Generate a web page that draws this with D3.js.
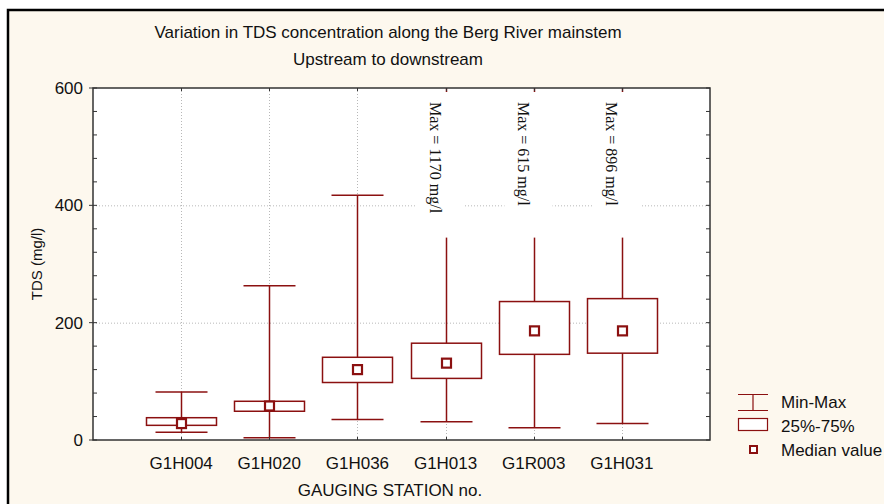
<!DOCTYPE html>
<html>
<head>
<meta charset="utf-8">
<script src="https://cdn.jsdelivr.net/npm/d3@7/dist/d3.min.js"></script>
<style>
  html, body { margin: 0; padding: 0; background: #ffffff; }
  svg { display: block; }
  text { fill: #111; }
</style>
</head>
<body>
<script>
// Gauging stations, ordered upstream to downstream
const categories = ["G1H004", "G1H020", "G1H036", "G1H013", "G1R003", "G1H031"];
// TDS summary statistics (mg/l)
const minVals    = [13, 4, 35, 31, 21, 28];
const q1Vals     = [25, 49, 98, 105, 146, 148];
const medianVals = [28, 58, 120, 131, 186, 186];
const q3Vals     = [38, 66, 141, 165, 236, 241];
const maxVals    = [82, 263, 417, 1170, 615, 896];
// Axis ticks
const yTicks = [0, 200, 400, 600];
const yMinorTicks = d3.range(0, 601, 40);
const legendLabels = ["Min-Max", "25%-75%", "Median value"];

const W = 884, H = 504;
const plot = { left: 93, right: 710, top: 88, bottom: 440 };
const red = "#8b1010";
const sans = "Arial, 'Liberation Sans', sans-serif";
const serif = "'Times New Roman', 'Liberation Serif', serif";

const stats = categories.map((c, i) => ({
  cat: c, min: minVals[i], q1: q1Vals[i], med: medianVals[i], q3: q3Vals[i], max: maxVals[i]
}));

const svg = d3.select("body").append("svg").attr("width", W).attr("height", H)
  .style("font-family", sans);

// Cream panel with a black frame on the top and left
svg.append("rect").attr("x", 8).attr("y", 10).attr("width", W).attr("height", H)
  .attr("fill", "#fdf8ee").attr("stroke", "#000").attr("stroke-width", 2.5);

const x = d3.scalePoint().domain(categories).range([plot.left, plot.right]).padding(1);
const y = d3.scaleLinear().domain([0, 600]).range([plot.bottom, plot.top]);

// Plot area
svg.append("rect").attr("x", plot.left).attr("y", plot.top)
  .attr("width", plot.right - plot.left).attr("height", plot.bottom - plot.top)
  .attr("fill", "#fff");

svg.append("clipPath").attr("id", "clip").append("rect")
  .attr("x", plot.left).attr("y", plot.top)
  .attr("width", plot.right - plot.left).attr("height", plot.bottom - plot.top);

// Dotted grid
const grid = svg.append("g").attr("stroke", "#b8b8b8").attr("stroke-width", 1)
  .attr("stroke-dasharray", "1,2");
grid.selectAll("line.h").data([200, 400]).join("line").attr("class", "h")
  .attr("x1", plot.left).attr("x2", plot.right)
  .attr("y1", d => y(d) + 0.5).attr("y2", d => y(d) + 0.5);
grid.selectAll("line.v").data(categories).join("line").attr("class", "v")
  .attr("x1", d => Math.round(x(d)) + 0.5).attr("x2", d => Math.round(x(d)) + 0.5)
  .attr("y1", plot.top).attr("y2", plot.bottom);

// Box plots
const boxHalf = 35, capHalf = 26;
const g = svg.append("g").attr("clip-path", "url(#clip)");
const box = g.selectAll("g.box").data(stats).join("g").attr("class", "box")
  .attr("transform", d => `translate(${Math.round(x(d.cat)) + 0.5},0)`);

box.append("line").attr("x1", 0).attr("x2", 0)
  .attr("y1", d => y(d.min)).attr("y2", d => y(Math.min(d.max, 600)))
  .attr("stroke", red).attr("stroke-width", 1.5);
box.append("line").attr("x1", -capHalf).attr("x2", capHalf)
  .attr("y1", d => y(d.min)).attr("y2", d => y(d.min))
  .attr("stroke", red).attr("stroke-width", 1.5);
box.filter(d => d.max <= 600).append("line").attr("x1", -capHalf).attr("x2", capHalf)
  .attr("y1", d => y(d.max)).attr("y2", d => y(d.max))
  .attr("stroke", red).attr("stroke-width", 1.5);
box.append("rect").attr("x", -boxHalf).attr("width", boxHalf * 2)
  .attr("y", d => y(d.q3)).attr("height", d => y(d.q1) - y(d.q3))
  .attr("fill", "#fff").attr("stroke", red).attr("stroke-width", 1.5);
box.append("rect").attr("x", -4.5).attr("width", 9)
  .attr("y", d => y(d.med) - 4.5).attr("height", 9)
  .attr("fill", "#fff").attr("stroke", red).attr("stroke-width", 2.2);

// Off-scale maxima are written along the whisker
const over = box.filter(d => d.max > 600);
over.append("rect").attr("x", -30).attr("width", 48)
  .attr("y", plot.top + 4).attr("height", y(345) - plot.top - 4)
  .attr("fill", "#fff");
over.append("text")
  .attr("transform", `translate(-17,${plot.top + 14}) rotate(90)`)
  .style("font-family", serif)
  .attr("font-size", 16)
  .text(d => `Max = ${d.max} mg/l`);

// Axes
const axisColor = "#333";
const frame = svg.append("g");
frame.append("rect").attr("x", plot.left).attr("y", plot.top)
  .attr("width", plot.right - plot.left).attr("height", plot.bottom - plot.top)
  .attr("fill", "none").attr("stroke", axisColor).attr("stroke-width", 1.5);

// minor ticks inside, left and right
frame.selectAll("line.ml").data(yMinorTicks).join("line")
  .attr("x1", plot.left).attr("x2", plot.left + 4)
  .attr("y1", d => y(d)).attr("y2", d => y(d))
  .attr("stroke", axisColor).attr("stroke-width", 1);
frame.selectAll("line.mr").data(yMinorTicks).join("line")
  .attr("x1", plot.right - 4).attr("x2", plot.right)
  .attr("y1", d => y(d)).attr("y2", d => y(d))
  .attr("stroke", axisColor).attr("stroke-width", 1);
// major ticks, outside on the left
frame.selectAll("line.mj").data(yTicks).join("line")
  .attr("x1", plot.left - 4).attr("x2", plot.left)
  .attr("y1", d => y(d)).attr("y2", d => y(d))
  .attr("stroke", axisColor).attr("stroke-width", 1);
// category ticks, top and bottom
frame.selectAll("line.xb").data(categories).join("line")
  .attr("x1", d => Math.round(x(d)) + 0.5).attr("x2", d => Math.round(x(d)) + 0.5)
  .attr("y1", plot.bottom - 3).attr("y2", plot.bottom)
  .attr("stroke", axisColor).attr("stroke-width", 1);
frame.selectAll("line.xt").data(categories).join("line")
  .attr("x1", d => Math.round(x(d)) + 0.5).attr("x2", d => Math.round(x(d)) + 0.5)
  .attr("y1", plot.top).attr("y2", plot.top + 3)
  .attr("stroke", axisColor).attr("stroke-width", 1);

// Tick labels
svg.append("g").selectAll("text").data(yTicks).join("text")
  .attr("x", plot.left - 10).attr("y", d => y(d)).attr("dy", "0.35em")
  .attr("text-anchor", "end").attr("font-size", 17)
  .text(d => d);
svg.append("g").selectAll("text").data(categories).join("text")
  .attr("x", d => x(d)).attr("y", 469)
  .attr("text-anchor", "middle").attr("font-size", 17)
  .text(d => d);

// Titles
svg.append("text").attr("x", 388).attr("y", 38).attr("text-anchor", "middle")
  .attr("font-size", 17).text("Variation in TDS concentration along the Berg River mainstem");
svg.append("text").attr("x", 388).attr("y", 65).attr("text-anchor", "middle")
  .attr("font-size", 17).text("Upstream to downstream");
svg.append("text").attr("x", 390).attr("y", 496)
  .attr("text-anchor", "middle").attr("font-size", 17).text("GAUGING STATION no.");
svg.append("text").attr("transform", `translate(42,${(plot.top + plot.bottom) / 2}) rotate(-90)`)
  .attr("text-anchor", "middle").attr("font-size", 15).text("TDS (mg/l)");

// Legend
const lg = svg.append("g").attr("transform", "translate(738,0)");
lg.append("path").attr("d", "M0,394.5H30M15,394.5V410.5M0,410.5H30")
  .attr("fill", "none").attr("stroke", red).attr("stroke-width", 1.2);
lg.append("rect").attr("x", 0.5).attr("y", 418.5).attr("width", 29).attr("height", 12)
  .attr("fill", "#fff").attr("stroke", red).attr("stroke-width", 1.2);
lg.append("rect").attr("x", 12).attr("y", 446).attr("width", 7).attr("height", 7)
  .attr("fill", "#fff").attr("stroke", red).attr("stroke-width", 2);
lg.selectAll("text").data(legendLabels).join("text")
  .attr("x", 43).attr("y", (d, i) => 408 + i * 24)
  .attr("font-size", 17).text(d => d);
</script>
</body>
</html>
